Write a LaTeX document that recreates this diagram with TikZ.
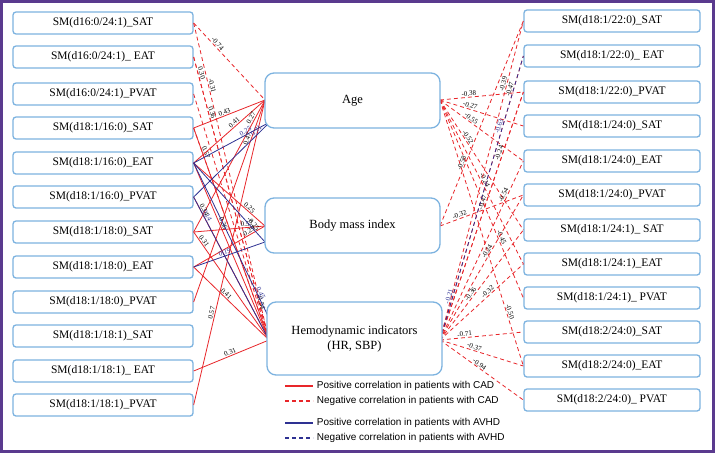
\documentclass[tikz,border=0pt]{standalone}
\usepackage{fontspec}
\setmainfont{Liberation Serif}
\newfontfamily\legf{Liberation Sans}
\begin{document}
\begin{tikzpicture}[x=1pt,y=-1pt,
  sbox/.style={draw=boxblue,line width=1.3pt,rounded corners=3pt,minimum width=180pt,minimum height=22pt,inner sep=0pt,font=\fontsize{11.5}{13}\selectfont,fill=white},
  rbox/.style={sbox,minimum width=176pt},
  cbox/.style={draw=boxblue,line width=1.3pt,rounded corners=9pt,minimum width=175pt,inner sep=0pt,align=center,font=\fontsize{12.5}{15}\selectfont,fill=white},
  pr/.style={draw=cred,line width=0.8pt},
  nr/.style={draw=cred,line width=0.8pt,dash pattern=on 4pt off 3pt},
  pb/.style={draw=cblue,line width=0.8pt},
  nb/.style={draw=cblue,line width=0.8pt,dash pattern=on 4pt off 3pt},
  lb/.style={font=\fontsize{7}{8}\selectfont,sloped,above,inner sep=0.8pt},
  lbb/.style={lb,text=cblue}]
\definecolor{boxblue}{HTML}{7DB3E0}
\definecolor{cred}{HTML}{E8262A}
\definecolor{cblue}{HTML}{2E3192}
\definecolor{frame}{HTML}{5A3A8E}
\useasboundingbox (0,0) rectangle (715,453);
\fill[frame] (0,0) rectangle (715,453);
\fill[white] (3,3) rectangle (712,450);
\coordinate (aL) at (265,100); \coordinate (bL) at (265,226); \coordinate (hL) at (269,340);
\coordinate (aR) at (440,100); \coordinate (bR) at (440,226); \coordinate (hR) at (440,340);
\path (103,23) coordinate (l1) (103,57) coordinate (l2) (103,94) coordinate (l3) (103,128) coordinate (l4)
 (103,163) coordinate (l5) (103,197) coordinate (l6) (103,232) coordinate (l7) (103,267) coordinate (l8)
 (103,302) coordinate (l9) (103,336) coordinate (l10) (103,371) coordinate (l11) (103,405) coordinate (l12);
\path (612,21) coordinate (r1) (612,56) coordinate (r2) (612,92) coordinate (r3) (612,126) coordinate (r4)
 (612,161) coordinate (r5) (612,195) coordinate (r6) (612,230) coordinate (r7) (612,264) coordinate (r8)
 (612,298) coordinate (r9) (612,332) coordinate (r10) (612,366) coordinate (r11) (612,400) coordinate (r12);
\foreach \i/\t in {1/{SM(d16:0/24:1)\_SAT},2/{SM(d16:0/24:1)\_ EAT},3/{SM(d16:0/24:1)\_PVAT},4/{SM(d18:1/16:0)\_SAT},5/{SM(d18:1/16:0)\_EAT},6/{SM(d18:1/16:0)\_PVAT},7/{SM(d18:1/18:0)\_SAT},8/{SM(d18:1/18:0)\_EAT},9/{SM(d18:1/18:0)\_PVAT},10/{SM(d18:1/18:1)\_SAT},11/{SM(d18:1/18:1)\_ EAT},12/{SM(d18:1/18:1)\_PVAT}}
  \node[sbox] (L\i) at (l\i) {\t};
\foreach \i/\t in {1/{SM(d18:1/22:0)\_SAT},2/{SM(d18:1/22:0)\_ EAT},3/{SM(d18:1/22:0)\_PVAT},4/{SM(d18:1/24:0)\_SAT},5/{SM(d18:1/24:0)\_EAT},6/{SM(d18:1/24:0)\_PVAT},7/{SM(d18:1/24:1)\_ SAT},8/{SM(d18:1/24:1)\_EAT},9/{SM(d18:1/24:1)\_ PVAT},10/{SM(d18:2/24:0)\_SAT},11/{SM(d18:2/24:0)\_EAT},12/{SM(d18:2/24:0)\_ PVAT}}
  \node[rbox] (R\i) at (r\i) {\t};
% left edges
\draw[nr] (L1.east) -- node[lb,pos=0.3]{-0.74} (aL);
\draw[nr] (L1.east) -- node[lb,pos=0.2]{-0.31} (hL);
\draw[nr] (L2.east) -- node[lb,pos=0.06]{0.30} (hL);
\draw[nr] (L2.east) -- node[lb,pos=0.2]{0.36} (hL);
\draw[nr] (L3.east) -- node[lb,pos=0.85]{-0.54} (hL);
\draw[nr] (L4.east) -- (hL);
\draw[pr] (L4.east) -- node[lb,pos=0.45]{0.43} (aL);
\draw[pr] (L4.east) -- node[lb,pos=0.12]{0.57} (hL);
\draw[pr] (L5.east) -- node[lb,pos=0.6]{0.41} (aL);
\draw[pr] (L7.east) -- node[lb,pos=0.85]{0.27} (aL);
\draw[pr] (L9.east) -- node[lb,pos=0.8]{0.47} (aL);
\draw[pr] (L12.east) -- node[lb,pos=0.3]{0.57} (aL);
\draw[pr] (L5.east) -- node[lb,pos=0.75]{0.25} (bL);
\draw[pr] (L7.east) -- node[lb,pos=0.75]{0.57} (bL);
\draw[pr] (L8.east) -- node[lb,pos=0.8]{0.29} (bL);
\draw[pr] (L5.east) -- node[lb,pos=0.35]{0.36} (hL);
\draw[pr] (L6.east) -- node[lb,pos=0.1]{0.34} (hL);
\draw[pr] (L7.east) -- node[lb,pos=0.1]{0.31} (hL);
\draw[pr] (L8.east) -- node[lb,pos=0.4]{0.41} (hL);
\draw[pr] (L11.east) -- node[lb,pos=0.5]{0.31} (hL);
\draw[pb] (L5.east) -- node[lbb,pos=0.7]{0.25} (270,122);
\draw[pb] (L6.east) -- node[lbb,pos=0.85]{0.21} (270,122);
\draw[pb] (L5.east) -- node[lb,pos=0.8]{-0.25} (265,242);
\draw[pb] (L5.east) -- node[lbb,pos=0.85]{0.45} (269,318);
\draw[pb] (L6.east) -- node[lbb,pos=0.14]{0.14} (hL);
\draw[pb] (L8.east) -- node[lbb,pos=0.45]{0.19} (265,242);
% right edges
\draw[nr] (aR) -- node[lb,pos=0.35]{-0.38} (R3.west);
\draw[nr] (aR) -- node[lb,pos=0.35]{-0.27} (R4.west);
\draw[nr] (aR) -- node[lb,pos=0.35]{-0.55} (R5.west);
\draw[nr] (aR) -- node[lb,pos=0.3]{-0.52} (R7.west);
\draw[nr] (aR) -- node[lb,pos=0.5]{-0.24} (R8.west);
\draw[nr] (aR) -- node[lb,pos=0.7]{-0.45} (R9.west);
\draw[nr] (aR) -- node[lb,pos=0.8]{-0.50} (R11.west);
\draw[nr] (bR) -- node[lb,pos=0.3]{-0.58} (R1.west);
\draw[nr] (bR) -- node[lb,pos=0.25]{-0.32} (R6.west);
\draw[nr] (hR) -- node[lb,pos=0.8]{-0.39} (R1.west);
\draw[nr] (hR) -- node[lb,pos=0.88]{-0.47} (R2.west);
\draw[nr] (hR) -- node[lb,pos=0.55]{-0.47} (R3.west);
\draw[nr] (hR) -- node[lb,pos=0.75]{-0.24} (R3.west);
\draw[nr] (hR) -- node[lb,pos=0.8]{-0.54} (R5.west);
\draw[nr] (hR) -- node[lb,pos=0.6]{-0.24} (R6.west);
\draw[nr] (hR) -- node[lb,pos=0.6]{-0.32} (R8.west);
\draw[nr] (hR) -- node[lb,pos=0.4]{-0.36} (R7.west);
\draw[nr] (hR) -- node[lb,pos=0.3]{-0.71} (R10.west);
\draw[nr] (hR) -- node[lb,pos=0.4]{-0.37} (R11.west);
\draw[nr] (hR) -- node[lb,pos=0.45]{-0.94} (R12.west);
\draw[nb] (hR) -- node[lbb,pos=0.15]{-0.21} node[lbb,pos=0.75]{-0.63} (R2.west);
% center boxes
\node[cbox,minimum height=55pt] (age) at (352.5,100.5) {Age};
\node[cbox,minimum height=55pt] (bmi) at (352.5,225.5) {Body mass index};
\node[cbox,minimum height=73pt] (hemo) at (354.5,338.5) {Hemodynamic indicators\\(HR, SBP)};
% legend
\begin{scope}[font=\legf\fontsize{10}{11}\selectfont]
\coordinate (g1a) at (285,386); \coordinate (g1b) at (313,386);
\coordinate (g2a) at (285,401); \coordinate (g2b) at (313,401);
\coordinate (g3a) at (285,423); \coordinate (g3b) at (313,423);
\coordinate (g4a) at (285,438); \coordinate (g4b) at (313,438);
\draw[pr,line width=1.2pt] (g1a) -- (g1b) node[right,text=black] (t1) {Positive correlation in patients with CAD};
\draw[nr,line width=1.2pt] (g2a) -- (g2b) node[right,text=black] (t2) {Negative correlation in patients with CAD};
\draw[pb,line width=1.2pt] (g3a) -- (g3b) node[right,text=black] (t3) {Positive correlation in patients with AVHD};
\draw[nb,line width=1.2pt] (g4a) -- (g4b) node[right,text=black] (t4) {Negative correlation in patients with AVHD};
\end{scope}
\end{tikzpicture}
\end{document}
